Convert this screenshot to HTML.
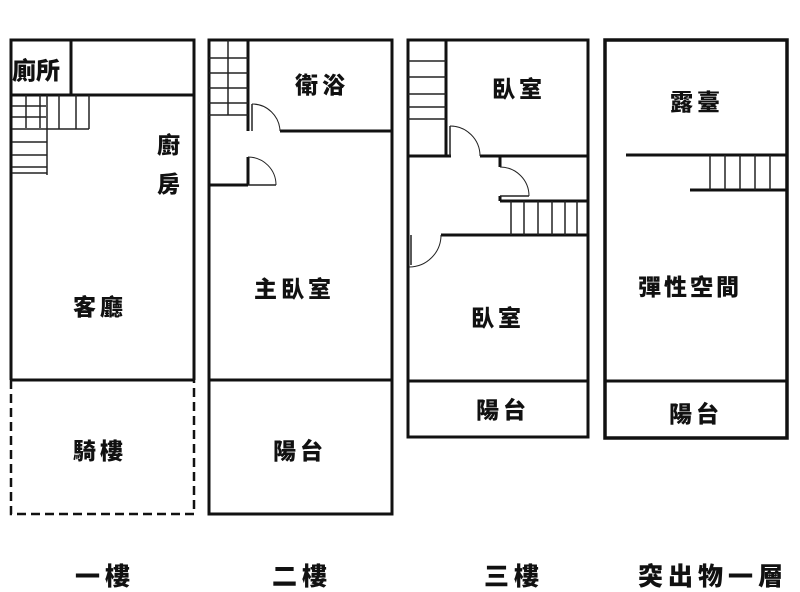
<!DOCTYPE html>
<html><head><meta charset="utf-8"><style>
html,body{margin:0;padding:0;background:#fff;}
svg{display:block;}
text{font-family:"Liberation Sans","Noto Sans CJK TC",sans-serif;font-weight:900;fill:#111;}
</style></head><body>
<svg width="800" height="592" viewBox="0 0 800 592" xmlns="http://www.w3.org/2000/svg">
<g stroke="#111" stroke-width="3" fill="none">
<path d="M11,380 L11,40 L194,40 L194,380"/>
<line x1="11" y1="380" x2="194" y2="380"/>
<line x1="11" y1="95" x2="194" y2="95"/>
<line x1="71" y1="40" x2="71" y2="95"/>
<path d="M11,380 L11,514 L194,514 L194,380" stroke-dasharray="9,5" stroke-width="2.5"/>
<rect x="209" y="40" width="183" height="474"/>
<line x1="209" y1="380" x2="392" y2="380"/>
<line x1="248" y1="40" x2="248" y2="131"/>
<line x1="280" y1="131" x2="392" y2="131"/>
<line x1="248" y1="157" x2="248" y2="185"/>
<line x1="209" y1="185" x2="248" y2="185"/>
<rect x="408" y="40" width="180" height="397"/>
<line x1="408" y1="381" x2="588" y2="381"/>
<line x1="446" y1="40" x2="446" y2="156"/>
<line x1="408" y1="156" x2="451" y2="156"/>
<line x1="480" y1="156" x2="588" y2="156"/>
<line x1="500" y1="156" x2="500" y2="167"/>
<line x1="500" y1="196" x2="500" y2="201"/>
<line x1="500" y1="201" x2="588" y2="201"/>
<line x1="441" y1="235" x2="588" y2="235"/>
<rect x="605" y="40" width="182" height="398" stroke-width="3.5"/>
<line x1="605" y1="381" x2="787" y2="381"/>
<line x1="626" y1="155" x2="787" y2="155"/>
<line x1="690" y1="190" x2="787" y2="190"/>
</g>
<g stroke="#222" stroke-width="1.5" fill="none">
<line x1="12" y1="106" x2="46" y2="106"/><line x1="12" y1="117" x2="46" y2="117"/>
<line x1="26" y1="95" x2="26" y2="128"/><line x1="40" y1="95" x2="40" y2="128"/>
<line x1="12" y1="129" x2="89" y2="129"/>
<line x1="47" y1="95" x2="47" y2="175"/><line x1="59" y1="95" x2="59" y2="129"/>
<line x1="76" y1="95" x2="76" y2="129"/><line x1="89" y1="95" x2="89" y2="129"/>
<line x1="12" y1="142" x2="47" y2="142"/><line x1="12" y1="155" x2="47" y2="155"/>
<line x1="12" y1="167" x2="47" y2="167"/><line x1="12" y1="173" x2="47" y2="173"/>
<line x1="228" y1="40" x2="228" y2="115"/>
<line x1="209" y1="58" x2="248" y2="58"/><line x1="209" y1="73" x2="248" y2="73"/>
<line x1="209" y1="88" x2="248" y2="88"/><line x1="209" y1="103" x2="248" y2="103"/>
<line x1="209" y1="115" x2="248" y2="115"/>
<path d="M252,104 A28,28 0 0 1 280,131" stroke-width="1"/>
<line x1="252" y1="104" x2="252" y2="131"/>
<path d="M248,157 A28,28 0 0 1 276,185" stroke-width="1"/>
<line x1="248" y1="185" x2="276" y2="185"/>
<line x1="408" y1="61" x2="446" y2="61"/><line x1="408" y1="77" x2="446" y2="77"/>
<line x1="408" y1="94" x2="446" y2="94"/><line x1="408" y1="107" x2="446" y2="107"/>
<line x1="408" y1="119" x2="446" y2="119"/>
<line x1="511" y1="201" x2="511" y2="235"/><line x1="524" y1="201" x2="524" y2="235"/>
<line x1="538" y1="201" x2="538" y2="235"/><line x1="552" y1="201" x2="552" y2="235"/>
<line x1="565" y1="201" x2="565" y2="235"/><line x1="577" y1="201" x2="577" y2="235"/>
<path d="M450,126 A30,30 0 0 1 480,156" stroke-width="1"/>
<line x1="450" y1="126" x2="450" y2="156"/>
<path d="M500,167 A29,29 0 0 1 529,196" stroke-width="1"/>
<line x1="500" y1="196" x2="529" y2="196"/>
<path d="M441,235 A32,32 0 0 1 409,267" stroke-width="1"/>
<line x1="411" y1="235" x2="411" y2="265"/>
<line x1="710" y1="155" x2="710" y2="190"/><line x1="725" y1="155" x2="725" y2="190"/>
<line x1="740" y1="155" x2="740" y2="190"/><line x1="755" y1="155" x2="755" y2="190"/>
<line x1="770" y1="155" x2="770" y2="190"/>
</g>
<g font-size="23">
<text x="12" y="79" font-size="24">廁所</text>
<text x="157" y="153">廚</text>
<text x="157" y="192">房</text>
<text x="73" y="315" letter-spacing="4">客廳</text>
<text x="73" y="459" letter-spacing="4">騎樓</text>
<text x="295" y="93" letter-spacing="4">衛浴</text>
<text x="254" y="297" letter-spacing="4">主臥室</text>
<text x="273" y="459" letter-spacing="4">陽台</text>
<text x="492" y="97" letter-spacing="4">臥室</text>
<text x="471" y="326" letter-spacing="4">臥室</text>
<text x="476" y="418" letter-spacing="4">陽台</text>
<text x="670" y="110" letter-spacing="4">露臺</text>
<text x="638" y="295" letter-spacing="3">彈性空間</text>
<text x="669" y="422" letter-spacing="4">陽台</text>
</g>
<g font-size="25">
<text x="75" y="585" letter-spacing="5">一樓</text>
<text x="272" y="585" letter-spacing="5">二樓</text>
<text x="484" y="585" letter-spacing="5">三樓</text>
<text x="638" y="585" letter-spacing="5">突出物一層</text>
</g>
</svg>
</body></html>
